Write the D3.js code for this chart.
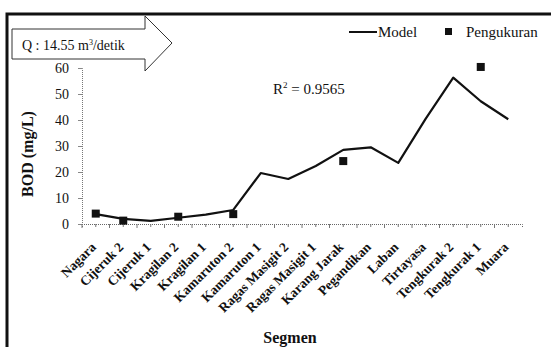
<!DOCTYPE html>
<html>
<head>
<meta charset="utf-8">
<script src="https://cdn.jsdelivr.net/npm/d3@7"></script>
<style>
  body { margin: 0; background: #fff; }
  svg text { font-family: "Liberation Serif", "Times New Roman", serif !important; fill: #111; }
</style>
</head>
<body>
<svg id="mainsvg" width="551" height="347"></svg>
<script>
  const segments = ['Nagara', 'Cijeruk 2', 'Cijeruk 1', 'Kragilan 2', 'Kragilan 1', 'Kamaruton 2',
    'Kamaruton 1', 'Ragas Masigit 2', 'Ragas Masigit 1', 'Karang Jarak', 'Pegandikan', 'Laban',
    'Tirtayasa', 'Tengkurak 2', 'Tengkurak 1', 'Muara'];
  const modelValues = [3.8, 2.0, 1.2, 2.4, 3.6, 5.4, 19.6, 17.3, 22.3, 28.5, 29.5, 23.5, 40.5, 56.3, 47.2, 40.3];
  const measuredSegments = ['Nagara', 'Cijeruk 2', 'Kragilan 2', 'Kamaruton 2', 'Karang Jarak', 'Tengkurak 1'];
  const measuredValues = [4.0, 1.3, 2.8, 3.8, 24.2, 60.4];
  const yTicks = [0, 10, 20, 30, 40, 50, 60];

  const serif = '"Liberation Serif", "Times New Roman", serif';
  const svg = d3.select('#mainsvg').attr('font-family', serif);
  const margin = { top: 68, left: 82 };
  const innerWidth = 440;
  const innerHeight = 156;

  // outer frame (cut off at right and bottom)
  svg.append('path')
    .attr('d', 'M7,360 V14 H560')
    .attr('fill', 'none').attr('stroke', '#111').attr('stroke-width', 3);

  const g = svg.append('g').attr('transform', `translate(${margin.left}, ${margin.top})`);

  const xScale = d3.scaleBand().domain(segments).range([0, innerWidth]);
  const yScale = d3.scaleLinear().domain([0, 60]).range([innerHeight, 0]);
  const xc = d => xScale(d) + xScale.bandwidth() / 2;

  // y axis
  const yAxis = d3.axisLeft(yScale).tickValues(yTicks).tickSize(4).tickPadding(9);
  const yG = g.append('g').call(yAxis).attr('font-family', serif);
  yG.select('.domain').attr('stroke', '#777').attr('stroke-dasharray', '1,1');
  yG.selectAll('.tick line').attr('stroke', '#888');
  yG.selectAll('.tick text').attr('font-size', 14);

  // x axis
  const xAxis = d3.axisBottom(xScale).tickSize(3).tickFormat('');
  const xG = g.append('g').attr('transform', `translate(0, ${innerHeight})`).call(xAxis);
  xG.select('.domain').attr('stroke', '#666').attr('stroke-dasharray', '1,1');
  xG.selectAll('.tick line').attr('stroke', '#777');
  xG.selectAll('.bt').data(segments).enter().append('line')
    .attr('x1', d => xScale(d)).attr('x2', d => xScale(d))
    .attr('y1', 0).attr('y2', 4).attr('stroke', '#777');

  // rotated category labels
  g.selectAll('.xlab').data(segments).enter().append('text')
    .attr('class', 'xlab')
    .attr('transform', d => `translate(${xc(d) + 1}, ${innerHeight + 24}) rotate(-45)`)
    .attr('text-anchor', 'end')
    .attr('font-size', 13.5).attr('font-weight', 'bold')
    .text(d => d);

  // model line
  const line = d3.line()
    .x((d, i) => xc(segments[i]))
    .y(d => yScale(d));
  g.append('path').datum(modelValues)
    .attr('fill', 'none').attr('stroke', '#111').attr('stroke-width', 2.2)
    .attr('stroke-linejoin', 'round')
    .attr('d', line);

  // measured points
  g.selectAll('.pt').data(measuredValues).enter().append('rect')
    .attr('x', (d, i) => xc(measuredSegments[i]) - 4)
    .attr('y', d => yScale(d) - 4)
    .attr('width', 8).attr('height', 8)
    .attr('fill', '#111');

  // axis titles
  svg.append('text')
    .attr('transform', `translate(33, ${margin.top + innerHeight / 2 + 8}) rotate(-90)`)
    .attr('text-anchor', 'middle')
    .attr('font-size', 16).attr('font-weight', 'bold')
    .text('BOD (mg/L)');
  svg.append('text')
    .attr('x', 290).attr('y', 343)
    .attr('text-anchor', 'middle')
    .attr('font-size', 16).attr('font-weight', 'bold')
    .text('Segmen');

  // R squared
  const r2 = svg.append('text').attr('x', 273).attr('y', 94).attr('font-size', 15);
  r2.append('tspan').text('R');
  r2.append('tspan').attr('dy', -6).attr('font-size', 9).text('2');
  r2.append('tspan').attr('dy', 6).text(' = 0.9565');

  // legend
  svg.append('line').attr('x1', 349).attr('x2', 377).attr('y1', 32).attr('y2', 32)
    .attr('stroke', '#111').attr('stroke-width', 2);
  svg.append('text').attr('x', 378).attr('y', 37).attr('font-size', 15).text('Model');
  svg.append('rect').attr('x', 445).attr('y', 28).attr('width', 7).attr('height', 7).attr('fill', '#111');
  svg.append('text').attr('x', 466).attr('y', 37).attr('font-size', 15).text('Pengukuran');

  // discharge arrow
  svg.append('path')
    .attr('d', 'M12,29 H145 V16 L172,43 L145,71 V59 H12 Z')
    .attr('fill', '#fff').attr('stroke', '#333').attr('stroke-width', 1);
  const q = svg.append('text').attr('x', 22).attr('y', 50).attr('font-size', 14);
  q.append('tspan').text('Q : 14.55 m');
  q.append('tspan').attr('dy', -5).attr('font-size', 8).text('3');
  q.append('tspan').attr('dy', 5).text('/detik');
</script>
</body>
</html>
